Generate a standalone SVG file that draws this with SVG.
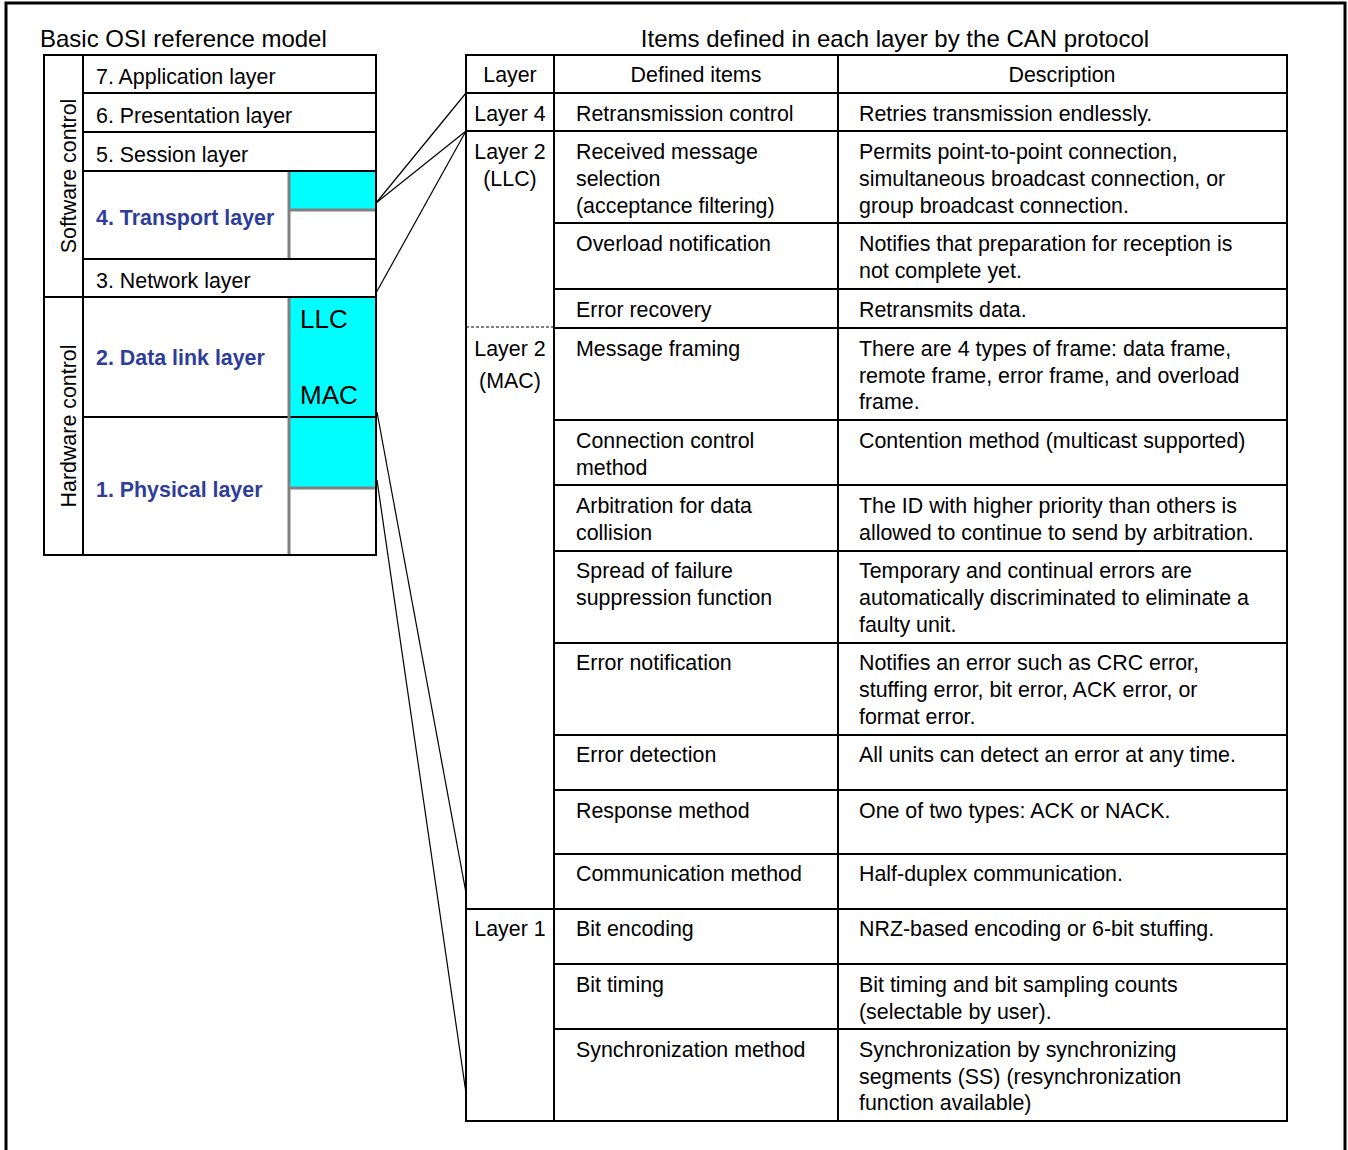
<svg xmlns="http://www.w3.org/2000/svg" width="1348" height="1150" viewBox="0 0 1348 1150">
<style>
text{font-family:"Liberation Sans",Arial,sans-serif;font-size:21.4px;fill:#000}
.t{font-size:24px}
.b{font-weight:bold;fill:#2E3D9A}
.big{font-size:26px}
.m{text-anchor:middle}
.ln{stroke:#000;stroke-width:2;fill:none}
.gr{stroke:#808080;stroke-width:3;fill:none}
.cy{fill:#00FFFF}
.cn{stroke:#000;stroke-width:1.2;fill:none}
</style>
<rect x="6" y="3" width="1339" height="1170" fill="#fff" stroke="#000" stroke-width="3"/>
<text class="t" x="40" y="47">Basic OSI reference model</text>
<text class="t m" x="895" y="47">Items defined in each layer by the CAN protocol</text>

<g id="osi-model">
  <g id="software-control">
    <rect class="ln" x="44" y="55" width="39" height="242"/>
    <text class="m" transform="translate(76,176) rotate(-90)">Software control</text>
  </g>
  <g id="hardware-control">
    <rect class="ln" x="44" y="297" width="39" height="258"/>
    <text class="m" transform="translate(76,426) rotate(-90)">Hardware control</text>
  </g>
  <g id="layer7"><rect class="ln" x="83" y="55" width="293" height="38"/><text x="96" y="84">7. Application layer</text></g>
  <g id="layer6"><rect class="ln" x="83" y="93" width="293" height="39"/><text x="96" y="123">6. Presentation layer</text></g>
  <g id="layer5"><rect class="ln" x="83" y="132" width="293" height="39"/><text x="96" y="162">5. Session layer</text></g>
  <g id="layer4">
    <rect class="cy" x="290" y="171" width="86" height="38"/>
    <rect class="ln" x="83" y="171" width="293" height="88"/>
    <line class="gr" x1="289" y1="172" x2="289" y2="258"/>
    <line class="gr" x1="289" y1="210" x2="375" y2="210"/>
    <text class="b" x="96" y="225">4. Transport layer</text>
  </g>
  <g id="layer3"><rect class="ln" x="83" y="259" width="293" height="38"/><text x="96" y="288">3. Network layer</text></g>
  <g id="layer2">
    <rect class="cy" x="290" y="297" width="86" height="120"/>
    <rect class="ln" x="83" y="297" width="293" height="120"/>
    <text class="b" x="96" y="365">2. Data link layer</text>
    <text class="big" x="300" y="328">LLC</text>
    <text class="big" x="300" y="404">MAC</text>
  </g>
  <g id="layer1">
    <rect class="cy" x="290" y="417" width="86" height="71"/>
    <rect class="ln" x="83" y="417" width="293" height="138"/>
    <line class="gr" x1="289" y1="488" x2="375" y2="488"/>
    <text class="b" x="96" y="497">1. Physical layer</text>
  </g>
  <line class="gr" x1="289" y1="298" x2="289" y2="554"/>
</g>

<g id="connectors">
  <line class="cn" x1="376" y1="203" x2="466" y2="93"/>
  <line class="cn" x1="376" y1="203" x2="466" y2="131"/>
  <line class="cn" x1="376" y1="293" x2="466" y2="131" stroke-width="1.8"/>
  <line class="cn" x1="377" y1="412" x2="466" y2="893"/>
  <line class="cn" x1="377" y1="480" x2="466" y2="1093"/>
</g>

<g id="can-table">
  <g id="table-grid">
    <rect class="ln" x="466" y="55" width="821" height="1066"/>
    <line class="ln" x1="554" y1="55" x2="554" y2="1121"/>
    <line class="ln" x1="838" y1="55" x2="838" y2="1121"/>
    <line class="ln" x1="466" y1="93" x2="1287" y2="93"/>
    <line class="ln" x1="466" y1="131" x2="1287" y2="131"/>
    <line class="ln" x1="554" y1="223" x2="1287" y2="223"/>
    <line class="ln" x1="554" y1="289" x2="1287" y2="289"/>
    <line class="ln" x1="554" y1="328" x2="1287" y2="328"/>
    <line x1="466" y1="327" x2="554" y2="327" stroke="#000" stroke-width="1" stroke-dasharray="3,2"/>
    <line class="ln" x1="554" y1="420" x2="1287" y2="420"/>
    <line class="ln" x1="554" y1="485" x2="1287" y2="485"/>
    <line class="ln" x1="554" y1="551" x2="1287" y2="551"/>
    <line class="ln" x1="554" y1="643" x2="1287" y2="643"/>
    <line class="ln" x1="554" y1="735" x2="1287" y2="735"/>
    <line class="ln" x1="554" y1="790" x2="1287" y2="790"/>
    <line class="ln" x1="554" y1="854" x2="1287" y2="854"/>
    <line class="ln" x1="466" y1="909" x2="1287" y2="909"/>
    <line class="ln" x1="554" y1="964" x2="1287" y2="964"/>
    <line class="ln" x1="554" y1="1029" x2="1287" y2="1029"/>
  </g>
  <g id="header">
    <text class="m" x="510" y="82">Layer</text>
    <text class="m" x="696" y="82">Defined items</text>
    <text class="m" x="1062" y="82">Description</text>
  </g>
  <g id="layer-labels">
    <text class="m" x="510" y="121">Layer 4</text>
    <text class="m" x="510" y="159">Layer 2</text>
    <text class="m" x="510" y="186">(LLC)</text>
    <text class="m" x="510" y="356">Layer 2</text>
    <text class="m" x="510" y="388">(MAC)</text>
    <text class="m" x="510" y="936">Layer 1</text>
  </g>
  <g id="row-retransmission"><text x="576" y="121">Retransmission control</text><text x="859" y="121">Retries transmission endlessly.</text></g>
  <g id="row-received">
    <text x="576" y="159">Received message</text><text x="576" y="186">selection</text><text x="576" y="213">(acceptance filtering)</text>
    <text x="859" y="159">Permits point-to-point connection,</text><text x="859" y="186">simultaneous broadcast connection, or</text><text x="859" y="213">group broadcast connection.</text>
  </g>
  <g id="row-overload"><text x="576" y="251">Overload notification</text><text x="859" y="251">Notifies that preparation for reception is</text><text x="859" y="277.5">not complete yet.</text></g>
  <g id="row-error-recovery"><text x="576" y="316.5">Error recovery</text><text x="859" y="316.5">Retransmits data.</text></g>
  <g id="row-framing">
    <text x="576" y="356">Message framing</text>
    <text x="859" y="356">There are 4 types of frame: data frame,</text><text x="859" y="382.5">remote frame, error frame, and overload</text><text x="859" y="409">frame.</text>
  </g>
  <g id="row-connection"><text x="576" y="448">Connection control</text><text x="576" y="474.5">method</text><text x="859" y="448">Contention method (multicast supported)</text></g>
  <g id="row-arbitration"><text x="576" y="513">Arbitration for data</text><text x="576" y="539.5">collision</text><text x="859" y="513">The ID with higher priority than others is</text><text x="859" y="539.5">allowed to continue to send by arbitration.</text></g>
  <g id="row-spread">
    <text x="576" y="578">Spread of failure</text><text x="576" y="604.5">suppression function</text>
    <text x="859" y="578">Temporary and continual errors are</text><text x="859" y="604.5">automatically discriminated to eliminate a</text><text x="859" y="631.5">faulty unit.</text>
  </g>
  <g id="row-error-notification">
    <text x="576" y="670">Error notification</text>
    <text x="859" y="670">Notifies an error such as CRC error,</text><text x="859" y="696.5">stuffing error, bit error, ACK error, or</text><text x="859" y="723.5">format error.</text>
  </g>
  <g id="row-error-detection"><text x="576" y="762">Error detection</text><text x="859" y="762">All units can detect an error at any time.</text></g>
  <g id="row-response"><text x="576" y="818">Response method</text><text x="859" y="818">One of two types: ACK or NACK.</text></g>
  <g id="row-communication"><text x="576" y="881">Communication method</text><text x="859" y="881">Half-duplex communication.</text></g>
  <g id="row-bit-encoding"><text x="576" y="936">Bit encoding</text><text x="859" y="936">NRZ-based encoding or 6-bit stuffing.</text></g>
  <g id="row-bit-timing"><text x="576" y="992">Bit timing</text><text x="859" y="992">Bit timing and bit sampling counts</text><text x="859" y="1018.5">(selectable by user).</text></g>
  <g id="row-sync">
    <text x="576" y="1057">Synchronization method</text>
    <text x="859" y="1057">Synchronization by synchronizing</text><text x="859" y="1083.5">segments (SS) (resynchronization</text><text x="859" y="1110">function available)</text>
  </g>
</g>
</svg>
